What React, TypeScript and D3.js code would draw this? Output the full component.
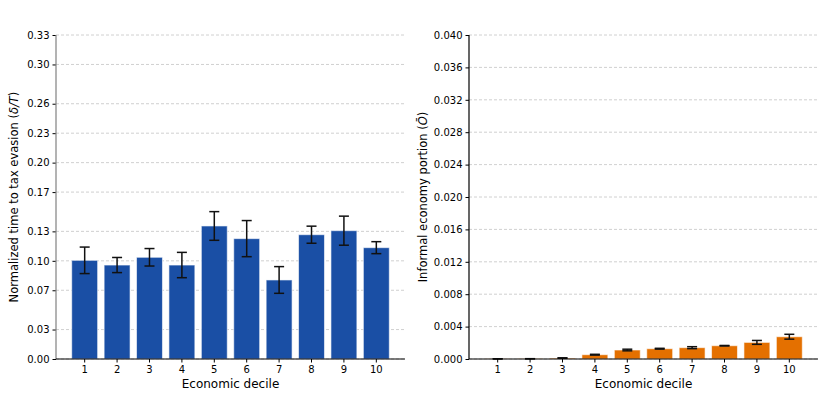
import { useRef, useEffect } from 'react';
import { select, scaleLinear, scaleBand, axisLeft, axisBottom } from 'd3';

const deciles = ['1', '2', '3', '4', '5', '6', '7', '8', '9', '10'];

// left panel: normalized time to tax evasion
const evasionTime = [0.1005, 0.0957, 0.1036, 0.0957, 0.1355, 0.1226, 0.0805, 0.1266, 0.1307, 0.1134];
const evasionErr = [0.0135, 0.0077, 0.0089, 0.0129, 0.0146, 0.0184, 0.0136, 0.0087, 0.0148, 0.0061];
const evasionTicks = [0.0, 0.03, 0.07, 0.1, 0.13, 0.17, 0.2, 0.23, 0.26, 0.3, 0.33];

// right panel: informal economy portion
const informal = [0.00002, 0.00003, 0.00012, 0.00053, 0.00111, 0.00127, 0.0014, 0.00164, 0.00205, 0.00275];
const informalErr = [0.00001, 0.00001, 0.00003, 0.00005, 0.0001, 0.00005, 0.00012, 0.00003, 0.00024, 0.0003];
const informalTicks = [0.0, 0.004, 0.008, 0.012, 0.016, 0.02, 0.024, 0.028, 0.032, 0.036, 0.04];

const FONT = '"DejaVu Sans", sans-serif';

type Panel = {
  left: number;
  right: number;
  values: number[];
  errs: number[];
  ticks: number[];
  max: number;
  fmt: (d: number) => string;
  color: string;
  yLabel: string;
  yLabelItalic: string;
  labelX: number;
  spineColor: string;
};

export default function App() {
  const svgRef = useRef<SVGSVGElement>(null);

  useEffect(() => {
    if (!svgRef.current) return;
    const svg = select(svgRef.current);
    svg.selectAll('*').remove();

    const top = 35;
    const bottom = 359;

    const panels: Panel[] = [
      {
        left: 56, right: 405, values: evasionTime, errs: evasionErr, ticks: evasionTicks, max: 0.33,
        fmt: d => d.toFixed(2), color: '#1a4fa5', yLabel: 'Normalized time to tax evasion (',
        yLabelItalic: 'δ/T', labelX: 18, spineColor: '#808080',
      },
      {
        left: 469, right: 818, values: informal, errs: informalErr, ticks: informalTicks, max: 0.04,
        fmt: d => d.toFixed(3), color: '#e47000', yLabel: 'Informal economy portion (',
        yLabelItalic: 'Ō', labelX: 427, spineColor: '#000',
      },
    ];

    for (const p of panels) {
      const y = scaleLinear().domain([0, p.max]).range([bottom, top]);
      const x = scaleBand<string>().domain(deciles).range([p.left, p.right])
        .paddingInner(0.2).paddingOuter(0.485);
      const g = svg.append('g');

      // grid
      g.append('g').selectAll('line').data(p.ticks).join('line')
        .attr('x1', p.left).attr('x2', p.right)
        .attr('y1', d => y(d)).attr('y2', d => y(d))
        .attr('stroke', '#c4c4c4').attr('stroke-width', 0.8).attr('stroke-dasharray', '3,2');

      // bars
      g.append('g').selectAll('rect').data(p.values).join('rect')
        .attr('x', (_, i) => x(deciles[i])!)
        .attr('width', x.bandwidth())
        .attr('y', d => y(d))
        .attr('height', d => bottom - y(d))
        .attr('fill', p.color)
        .attr('stroke', 'rgba(255,255,255,0.6)').attr('stroke-width', 1);

      // error bars
      const eb = g.append('g').attr('stroke', '#111').attr('stroke-width', 1.5);
      p.values.forEach((v, i) => {
        const cx = x(deciles[i])! + x.bandwidth() / 2;
        const hi = y(v + p.errs[i]);
        const lo = y(Math.max(0, v - p.errs[i]));
        eb.append('line').attr('x1', cx).attr('x2', cx).attr('y1', hi).attr('y2', lo);
        eb.append('line').attr('x1', cx - 5).attr('x2', cx + 5).attr('y1', hi).attr('y2', hi);
        eb.append('line').attr('x1', cx - 5).attr('x2', cx + 5).attr('y1', lo).attr('y2', lo);
      });

      // y axis
      const ya = g.append('g').attr('transform', `translate(${p.left},0)`)
        .call(axisLeft(y).tickValues(p.ticks).tickFormat(d => p.fmt(+d)).tickSize(3.5).tickPadding(3) as any);
      ya.select('.domain').remove();
      ya.selectAll('text').style('font-family', FONT).style('font-size', '10px').attr('fill', '#000');
      ya.selectAll('line').attr('stroke', '#000');
      g.append('line').attr('x1', p.left).attr('x2', p.left).attr('y1', top).attr('y2', bottom)
        .attr('stroke', p.spineColor).attr('stroke-width', 1.2);

      // x axis
      const xa = g.append('g').attr('transform', `translate(0,${bottom})`)
        .call(axisBottom(x).tickSize(3.5).tickPadding(3) as any);
      xa.select('.domain').remove();
      xa.selectAll('text').style('font-family', FONT).style('font-size', '10px').attr('fill', '#000');
      xa.selectAll('line').attr('stroke', '#000');
      g.append('line').attr('x1', p.left).attr('x2', p.right).attr('y1', bottom).attr('y2', bottom)
        .attr('stroke', '#000').attr('stroke-width', 1.2);

      // labels
      g.append('text').attr('x', (p.left + p.right) / 2).attr('y', 388)
        .attr('text-anchor', 'middle').style('font-family', FONT).style('font-size', '12px')
        .text('Economic decile');

      const yl = g.append('text')
        .attr('transform', `translate(${p.labelX},${(top + bottom) / 2}) rotate(-90)`)
        .attr('text-anchor', 'middle').style('font-family', FONT).style('font-size', '11.5px');
      yl.append('tspan').text(p.yLabel);
      yl.append('tspan').attr('font-style', 'italic').text(p.yLabelItalic);
      yl.append('tspan').text(')');
    }
  }, []);

  return (
    <svg ref={svgRef} width={830} height={415}
      style={{ position: 'absolute', left: 0, top: 0, background: '#fff' }} />
  );
}
